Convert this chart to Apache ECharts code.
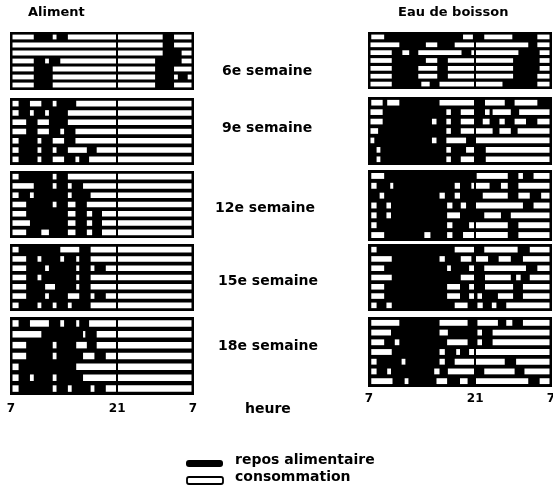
<!DOCTYPE html>
<html>
<head>
<meta charset="utf-8">
<script src="https://cdn.jsdelivr.net/npm/echarts@6/dist/echarts.min.js"></script>
<style>
  html, body { margin: 0; padding: 0; background: #fff; }
  #chart { width: 553px; height: 489px; }
</style>
</head>
<body>
<div id="chart"></div>
<script>
// consommation periods (white bars), hours counted from 7h, one list per day
const aliment6 = [
  [[0, 3], [5.5, 6], [7.5, 20], [21.5, 24]],
  [[0, 20], [21.5, 24]],
  [[0, 20], [22.5, 24]],
  [[0, 3], [4.5, 5], [6.5, 19], [22.5, 24]],
  [[0, 3], [5.5, 19], [21.5, 24]],
  [[0, 3], [5.5, 19], [21.5, 22], [23.3, 24]],
  [[0, 3], [5.5, 19], [21.5, 24]]
];
const aliment9 = [
  [[0.2, 1], [2.5, 4], [5.5, 6], [8.6, 24]],
  [[0, 1], [2.5, 3], [4.5, 5], [7.5, 24]],
  [[0, 2], [3.5, 5], [7.5, 24]],
  [[0, 2], [3.5, 5], [6.5, 7], [8.5, 24]],
  [[0, 1], [3.5, 4], [5.5, 7], [8.5, 24]],
  [[0, 1], [3.5, 4], [5.5, 6], [7.5, 10], [11.3, 24]],
  [[0, 1], [3.5, 4], [5.5, 7], [8.5, 9], [10.3, 24]]
];
const aliment12 = [
  [[0, 1], [5.5, 6], [7.5, 24]],
  [[0, 3], [5.5, 6], [7.5, 8], [9.5, 24]],
  [[0, 1], [2.5, 3], [7.5, 8], [10.5, 24]],
  [[0, 2], [5.5, 6], [7.5, 8.5], [10, 24]],
  [[0, 2], [7.5, 8.5], [10, 10.7], [12, 24]],
  [[0, 2.5], [7.5, 8.5], [10, 10.7], [12, 24]],
  [[0, 2], [4, 5], [7.5, 8.5], [10, 10.7], [12, 24]]
];
const aliment15 = [
  [[0, 1], [6.5, 9], [10.5, 24]],
  [[0, 2], [3.5, 4], [6.5, 7], [8.6, 9], [10.5, 24]],
  [[0, 2], [4.5, 5], [8.6, 9], [10.5, 11], [12.5, 24]],
  [[0, 2], [3.5, 4], [8.6, 9], [10.5, 24]],
  [[0, 2], [4.5, 5.8], [8.6, 9], [10.5, 24]],
  [[0, 2], [4.5, 5], [7.5, 9], [10.5, 11], [12.5, 24]],
  [[0, 1], [3.5, 4], [5.5, 6], [7.5, 8], [10.5, 24]]
];
const aliment18 = [
  [[0, 1], [2.5, 5], [6.5, 7], [8.6, 9], [10.3, 24]],
  [[0, 4], [9.5, 9.8], [11.3, 24]],
  [[0, 2], [5.5, 6], [8.6, 10], [11.3, 24]],
  [[0, 2], [5.5, 6], [9.5, 11], [12.5, 24]],
  [[0, 1], [8.6, 24]],
  [[0, 1], [2.5, 3], [5.5, 6], [9.5, 24]],
  [[0, 1], [5.5, 6], [7.5, 8], [10.5, 11], [12.5, 24]]
];

const eau6 = [
  [[0.3, 2], [12.4, 13.7], [15.2, 18.9], [22.2, 24]],
  [[0, 4], [7.5, 9], [11.3, 21], [22.2, 24]],
  [[0, 3], [4.4, 5.3], [6.5, 12.2], [13.5, 19.7], [22.5, 24]],
  [[0, 3], [7.5, 9], [10.4, 19], [22.5, 24]],
  [[0, 3], [6.5, 9], [10.4, 19], [22.5, 24]],
  [[0, 3], [6.5, 9], [10.4, 19], [22.2, 24]],
  [[0, 3], [6.9, 8], [9.3, 17.6], [22.2, 24]]
];
const eau9 = [
  [[0.3, 1.8], [2.4, 4], [9.3, 13.9], [15.3, 17.9], [19.2, 22.2]],
  [[0, 1.8], [10.2, 10.8], [12.1, 14], [15.3, 15.9], [16.3, 18.7], [19.8, 24]],
  [[0, 1.8], [8.3, 8.9], [10.2, 10.8], [12.1, 14], [15, 15.9], [17.2, 17.9], [19.2, 20.7], [22.2, 24]],
  [[0, 1.2], [10.2, 10.8], [12.1, 16.3], [17.2, 18.7], [19.6, 24]],
  [[0, 0.7], [8.3, 8.9], [10.2, 12.8], [14, 24]],
  [[1, 1.5], [10.2, 10.8], [12.8, 14], [15.4, 24]],
  [[1, 1.5], [10.2, 10.8], [12.1, 14], [15.4, 24]]
];
const eau12 = [
  [[0.3, 2], [14.2, 18.3], [19.7, 20.3], [21.7, 24]],
  [[0.3, 1], [2.8, 3.2], [11.3, 12], [13.5, 15.9], [17.4, 18.3], [19.7, 24]],
  [[1.4, 2], [9.3, 10], [11.3, 12], [15, 18.3], [19.7, 21.2], [22.7, 24]],
  [[0.3, 1], [2.3, 2.9], [10.3, 11], [12.1, 12.8], [14, 20.3], [21.7, 24]],
  [[0.3, 1], [2.3, 2.9], [10.3, 12], [15.2, 17.4], [18.7, 24]],
  [[0.3, 1], [10.3, 11], [13.2, 18.3], [19.7, 24]],
  [[0.3, 2], [7.3, 8.1], [10.3, 11], [12.4, 18.3], [19.7, 24]]
];
const eau15 = [
  [[0.3, 1], [11.3, 14], [15.2, 19.6], [21.2, 24]],
  [[0.3, 3], [9.3, 10], [12.1, 13.5], [14, 15.7], [17.1, 18.7], [20.3, 24]],
  [[0.3, 2], [10.3, 10.8], [13.2, 14], [15.2, 20.7], [22.2, 24]],
  [[0.3, 3], [12.1, 14], [15.3, 18.7], [19.4, 20], [21.2, 24]],
  [[0.3, 2], [10.3, 12], [13.2, 14], [15.3, 19], [20.3, 24]],
  [[0.3, 2], [10.3, 12], [13.2, 14], [14.3, 14.9], [17, 19], [20.3, 24]],
  [[0.3, 1], [2.3, 3], [11.3, 13], [14.3, 15], [16.2, 16.8], [18.1, 24]]
];
const eau18 = [
  [[0.3, 4], [9.3, 13], [14.3, 17], [18.1, 18.9], [20.3, 24]],
  [[0.3, 2.9], [9.3, 10.4], [14.3, 14.9], [16.3, 24]],
  [[0.3, 2], [3.4, 4], [10.3, 13], [14.3, 14.9], [16.3, 24]],
  [[0.3, 3], [9.3, 10], [11.5, 12], [13.2, 24]],
  [[0.3, 1], [4.3, 4.8], [9.3, 10], [11.3, 17.9], [19.4, 24]],
  [[0.3, 1], [2.4, 2.9], [8.6, 9.3], [10.4, 14], [15.2, 19.2], [20.5, 24]],
  [[0.3, 3.1], [4.7, 5.2], [8.9, 10.3], [12, 13], [14, 21], [22.5, 24]]
];

const weekLabels = ['6e semaine', '9e semaine', '12e semaine', '15e semaine', '18e semaine'];
const tickHours = [0, 14, 24];
const tickLabels = ['7', '21', '7'];

const alimentPanels = [aliment6, aliment9, aliment12, aliment15, aliment18];
const eauPanels = [eau6, eau9, eau12, eau15, eau18];

// layout of the panels, [top, height] in px
const leftBoxes = [[33, 56], [99, 65], [172, 65], [245, 65], [318, 76]];
const rightBoxes = [[33, 55], [98, 66], [171, 69], [245, 65], [318, 68]];
const labelPos = [[222, 72], [222, 129], [215, 209], [218, 282], [218, 347]];

const font = 'DejaVu Sans';

const grid = [];
const xAxis = [];
const yAxis = [];
const series = [];

function renderSegment(params, api) {
  const cs = params.coordSys;
  const start = api.coord([api.value(0), api.value(2)]);
  const end = api.coord([api.value(1), api.value(2)]);
  const h = Math.abs(api.size([0, 1])[1]) * 0.6;
  const x0 = Math.max(start[0], cs.x + 1.5);
  const x1 = Math.min(end[0], cs.x + cs.width - 1.5);
  return {
    type: 'rect',
    shape: {x: x0, y: start[1] - h / 2, width: x1 - x0, height: h},
    style: {fill: '#fff'}
  };
}

function addPanel(rows, left, box, isBottom, labelMargin) {
  const i = grid.length;
  grid.push({
    left: left, top: box[0], width: 182, height: box[1],
    containLabel: false, outerBoundsMode: 'none',
    show: true, backgroundColor: '#000', borderColor: '#000', borderWidth: 2
  });
  xAxis.push({
    type: 'value', gridIndex: i, min: 0, max: 24, interval: 2,
    axisLine: {show: false}, axisTick: {show: false}, splitLine: {show: false},
    axisLabel: {
      show: isBottom, margin: labelMargin, showMinLabel: true, showMaxLabel: true,
      color: '#000', fontFamily: font, fontWeight: 'bold', fontSize: 12,
      formatter: function (v) {
        const k = tickHours.indexOf(v);
        return k < 0 ? '' : tickLabels[k];
      }
    }
  });
  yAxis.push({
    type: 'value', gridIndex: i, min: -0.5, max: rows.length - 0.5, inverse: true, show: false,
    splitLine: {show: false}
  });
  const data = [];
  rows.forEach(function (segs, r) {
    segs.forEach(function (s) { data.push([s[0], s[1], r]); });
  });
  series.push({
    type: 'custom', xAxisIndex: i, yAxisIndex: i, silent: true,
    renderItem: renderSegment, encode: {x: [0, 1], y: 2}, data: data,
    markLine: {
      silent: true, symbol: 'none', label: {show: false}, animation: false,
      lineStyle: {color: '#000', width: 2, type: 'solid'},
      data: [{xAxis: 14}]
    }
  });
}

alimentPanels.forEach(function (rows, k) {
  addPanel(rows, 11, leftBoxes[k], k === 4, 9);
});
eauPanels.forEach(function (rows, k) {
  addPanel(rows, 369, rightBoxes[k], k === 4, 7);
});

const textStyle = function (text, size) {
  return {text: text, fill: '#000', font: 'bold ' + size + 'px "' + font + '"'};
};

const graphic = [
  {type: 'text', left: 28, top: 6, style: textStyle('Aliment', 13)},
  {type: 'text', left: 398, top: 6, style: textStyle('Eau de boisson', 13)},
  {type: 'text', left: 245, top: 402, style: textStyle('heure', 14)},
  {type: 'rect', shape: {x: 186, y: 460, width: 37, height: 7, r: 3}, style: {fill: '#000'}},
  {type: 'rect', shape: {x: 187, y: 477, width: 36, height: 7, r: 2}, style: {fill: '#fff', stroke: '#000', lineWidth: 1.8}},
  {type: 'text', left: 235, top: 453, style: textStyle('repos alimentaire', 14)},
  {type: 'text', left: 235, top: 470, style: textStyle('consommation', 14)}
];
weekLabels.forEach(function (t, k) {
  graphic.push({type: 'text', left: labelPos[k][0], top: labelPos[k][1] - 8, style: textStyle(t, 14)});
});

const chart = echarts.init(document.getElementById('chart'));
chart.setOption({
  animation: false,
  backgroundColor: '#fff',
  grid: grid,
  xAxis: xAxis,
  yAxis: yAxis,
  series: series,
  graphic: graphic
});
</script>
</body>
</html>
